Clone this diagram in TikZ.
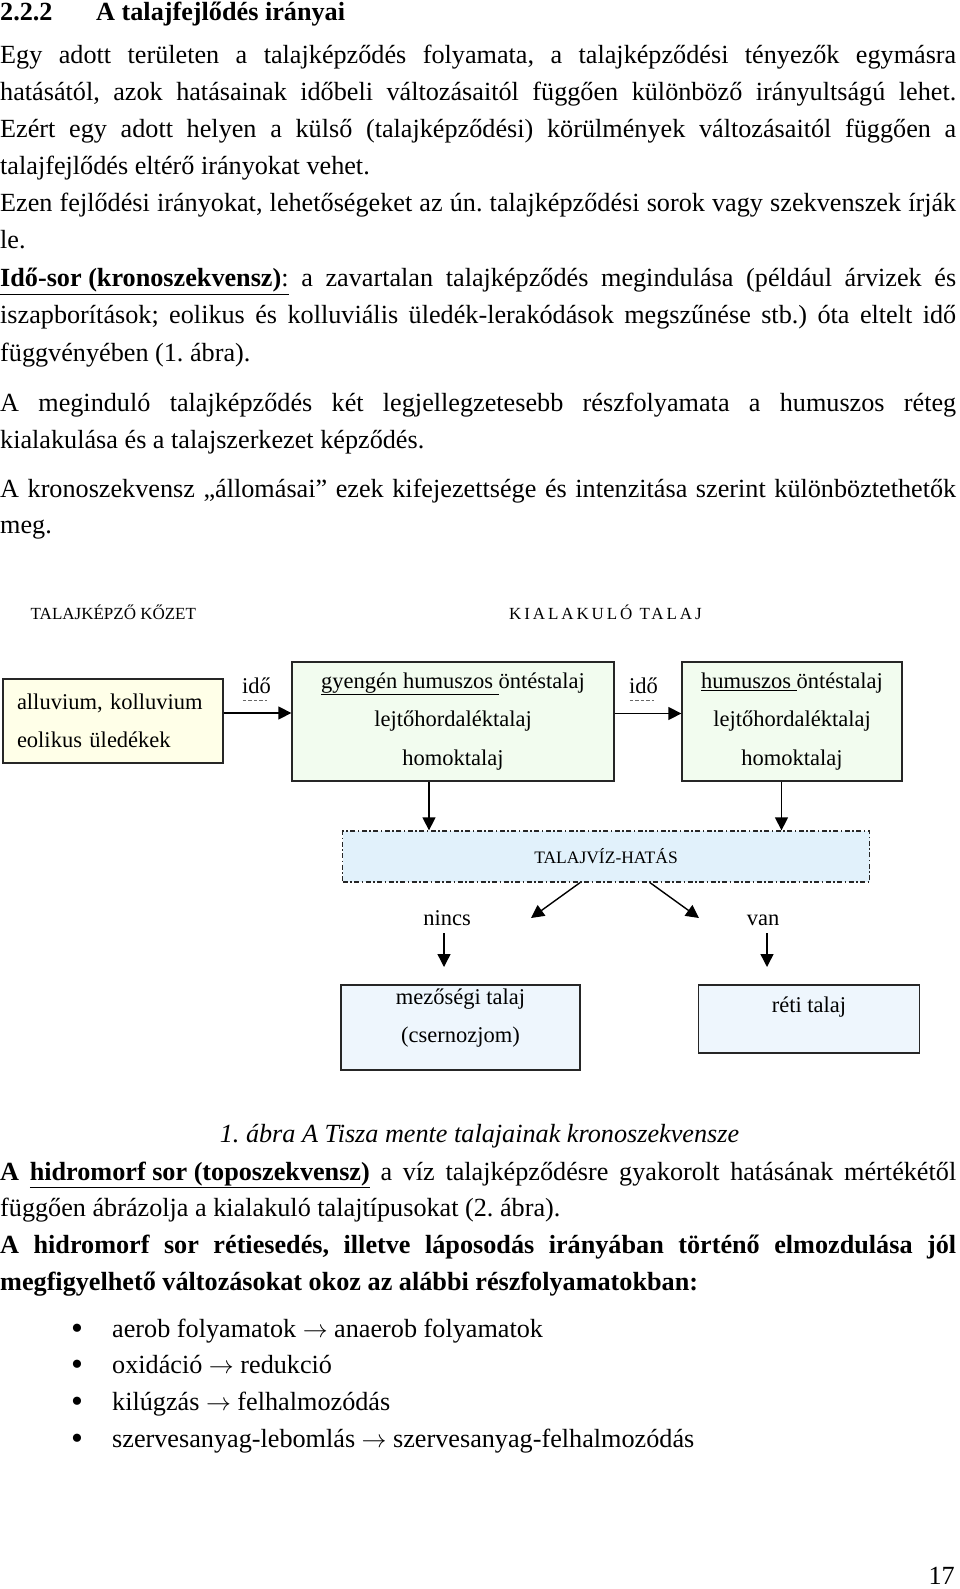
\documentclass[tikz,border=0pt]{standalone}
\usepackage{fontspec}
\setmainfont{Liberation Serif}
\usepackage{tikz}
\usetikzlibrary{arrows.meta, calc}

\definecolor{sargas}{HTML}{FFFFE8}
\definecolor{zoldes}{HTML}{F2FCEF}
\definecolor{kekes}{HTML}{E1F1FB}
\definecolor{halvanykek}{HTML}{EEF6FD}

\newcommand{\szoveg}{\fontsize{26.2}{37.3}\selectfont}
\newcommand{\abrabetu}{\fontsize{22.5}{38.5}\selectfont}
\newcommand{\cimke}{\fontsize{17}{20}\selectfont}
\newcommand{\sorki}[1]{\makebox[956pt][s]{#1}}
\frenchspacing

\tikzset{
  sor/.style={anchor=base west, inner sep=0pt, font=\szoveg},
  doboz/.style={draw=black!85, line width=1.3pt, inner sep=0pt, font=\abrabetu, align=center},
  felirat/.style={inner sep=0pt, font=\abrabetu},
  nyil/.style={line width=1.4pt, -{Triangle[length=13pt,width=13pt]}},
}

\begin{document}
\begin{tikzpicture}[x=1pt, y=-1pt]
    \fill[white] (0,0) rectangle (960,1589);
    \useasboundingbox (0,0) rectangle (960,1589);

    \node[sor, font=\szoveg\bfseries] (cimszam) at (0,21) {2.2.2};
    \node[sor, font=\szoveg\bfseries] (cim) at (96,21) {A talajfejlődés irányai};

    \node[sor] (p1a) at (0,64) {\sorki{Egy adott területen a talajképződés folyamata, a talajképződési tényezők egymásra}};
    \node[sor] (p1b) at (0,101) {\sorki{hatásától, azok hatásainak időbeli változásaitól függően különböző irányultságú lehet.}};
    \node[sor] (p1c) at (0,138) {\sorki{Ezért egy adott helyen a külső (talajképződési) körülmények változásaitól függően a}};
    \node[sor] (p1d) at (0,175) {talajfejlődés eltérő irányokat vehet.};
    \node[sor] (p2a) at (0,212) {\sorki{Ezen fejlődési irányokat, lehetőségeket az ún. talajképződési sorok vagy szekvenszek írják}};
    \node[sor] (p2b) at (0,249) {le.};
    \node[sor] (p3a) at (0,287) {\sorki{\underline{\textbf{Idő-sor (kronoszekvensz)}:} a zavartalan talajképződés megindulása (például árvizek és}};
    \node[sor] (p3b) at (0,323) {\sorki{iszapborítások; eolikus és kolluviális üledék-lerakódások megszűnése stb.) óta eltelt idő}};
    \node[sor] (p3c) at (0,361) {függvényében (1. ábra).};
    \node[sor] (p4a) at (0,411) {\sorki{A meginduló talajképződés két legjellegzetesebb részfolyamata a humuszos réteg}};
    \node[sor] (p4b) at (0,448) {kialakulása és a talajszerkezet képződés.};
    \node[sor] (p5a) at (0,497) {\sorki{A kronoszekvensz „állomásai” ezek kifejezettsége és intenzitása szerint különböztethetők}};
    \node[sor] (p5b) at (0,533) {meg.};

    % abra
    \node[sor, font=\cimke] (kozet) at (30.5,619.5) {TALAJKÉPZŐ KŐZET};
    \node[sor, font=\cimke\addfontfeature{LetterSpace=17}] (talaj) at (509,619.5) {KIALAKULÓ TALAJ};

    \node[doboz, fill=sargas, align=left, text width=192pt, inner xsep=14pt, minimum height=84pt] (ko) at (113,721) {alluvium, kolluvium\\eolikus üledékek};
    \node[doboz, fill=zoldes, minimum width=322pt, minimum height=119pt] (b2) at (453,721.5) {\underline{gyengén humuszos }öntéstalaj\\lejtőhordaléktalaj\\homoktalaj};
    \node[doboz, fill=zoldes, minimum width=220pt, minimum height=119pt] (b3) at (792,721.5) {\underline{humuszos }öntéstalaj\\lejtőhordaléktalaj\\homoktalaj};

    \node[felirat, anchor=base] (ido1) at (256.5,693) {idő};
    \node[felirat, anchor=base] (ido2) at (643.5,693) {idő};
    \draw[black!60, line width=0.8pt, dash pattern=on 3.5pt off 2pt] ($(ido1.south west)+(1,7)$) -- ($(ido1.south east)+(-4,7)$);
    \draw[black!60, line width=0.8pt, dash pattern=on 3.5pt off 2pt] ($(ido2.south west)+(1,7)$) -- ($(ido2.south east)+(-4,7)$);

    \draw[nyil] ([yshift=8pt]ko.east) -- ([yshift=8pt]ko.east -| b2.west);
    \draw[nyil] ([yshift=8pt]b2.east) -- ([yshift=8pt]b2.east -| b3.west);

    \node[doboz, fill=kekes, dash pattern=on 5pt off 2.5pt on 1.5pt off 2.5pt, minimum width=527pt, minimum height=51pt, font=\fontsize{17.5}{20}\selectfont] (tv) at (606,856.5) {TALAJVÍZ-HATÁS};

    \draw[nyil] ([xshift=-24pt]b2.south) -- ([xshift=-24pt]b2.south |- tv.north);
    \draw[nyil] ([xshift=-10.5pt]b3.south) -- ([xshift=-10.5pt]b3.south |- tv.north);

    \coordinate (balveg) at (531,918);
    \coordinate (jobbveg) at (699,918);
    \draw[nyil] ([xshift=-26pt]tv.south) -- (balveg);
    \draw[nyil] ([xshift=44pt]tv.south) -- (jobbveg);

    \node[felirat, anchor=base] (nincs) at (447,925) {nincs};
    \node[felirat, anchor=base] (van) at (763,925) {van};
    \coordinate (nincsveg) at (444,967);
    \coordinate (vanveg) at (767,967);
    \draw[nyil] ($(nincs.south -| nincsveg)+(0,8)$) -- (nincsveg);
    \draw[nyil] ($(van.south -| vanveg)+(0,8)$) -- (vanveg);

    \node[doboz, fill=halvanykek, minimum width=239pt, minimum height=85pt] (mezo) at (460.5,1027.5) {};
    \node[felirat, align=center] (mezot) at (mezo.center |- 0,1018) {mezőségi talaj\\(csernozjom)};
    \node[doboz, fill=halvanykek, minimum width=220.5pt, minimum height=68pt] (reti) at (809,1019) {};
    \node[felirat, anchor=base] (retit) at (reti.center |- 0,1012) {réti talaj};

    \node[sor, anchor=base, font=\szoveg\itshape] (abrafelirat) at (479.5,1142) {1. ábra A Tisza mente talajainak kronoszekvensze};

    \node[sor] (p6a) at (0,1180) {\sorki{\textbf{A} \underline{\textbf{hidromorf sor (toposzekvensz)}} a víz talajképződésre gyakorolt hatásának mértékétől}};
    \node[sor] (p6b) at (0,1216) {függően ábrázolja a kialakuló talajtípusokat (2. ábra).};
    \node[sor, font=\szoveg\bfseries] (p7a) at (0,1253) {\sorki{A hidromorf sor rétiesedés, illetve láposodás irányában történő elmozdulása jól}};
    \node[sor, font=\szoveg\bfseries] (p7b) at (0,1290) {megfigyelhető változásokat okoz az alábbi részfolyamatokban:};

    \foreach \y/\t [count=\i] in {1337/{aerob folyamatok $\rightarrow$ anaerob folyamatok},
                                  1373/{oxidáció $\rightarrow$ redukció},
                                  1410/{kilúgzás $\rightarrow$ felhalmozódás},
                                  1447/{szervesanyag-lebomlás $\rightarrow$ szervesanyag-felhalmozódás}} {
        \node[sor, anchor=base, font=\fontsize{34}{34}\selectfont] (pont\i) at (77,\y+2) {\textbullet};
        \node[sor] (elem\i) at (112,\y) {\t};
    }

    \node[sor, anchor=base east] (oldalszam) at (955,1584) {17};
\end{tikzpicture}
\end{document}
